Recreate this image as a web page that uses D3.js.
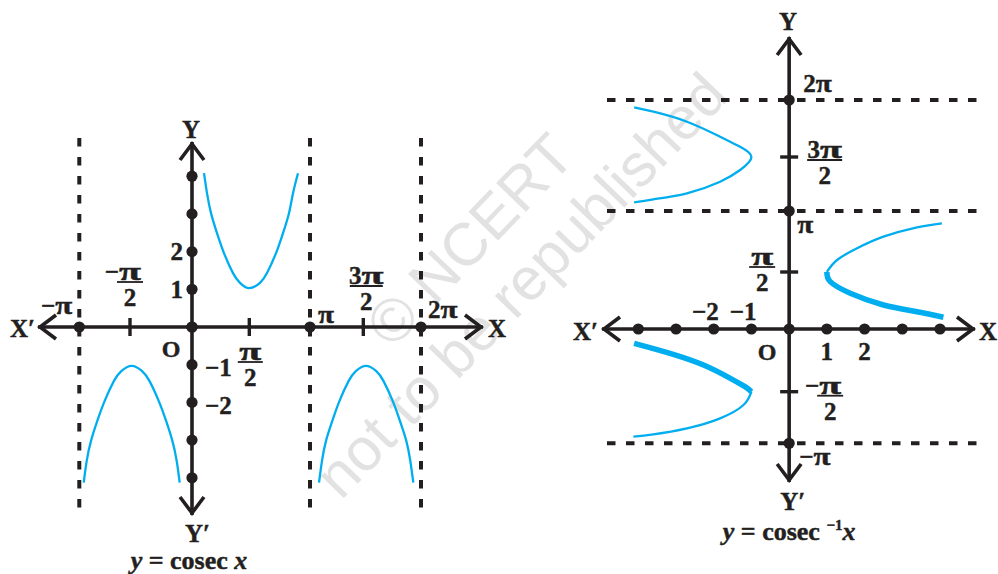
<!DOCTYPE html>
<html>
<head>
<meta charset="utf-8">
<script src="https://d3js.org/d3.v7.min.js"></script>
<style>
  body { margin: 0; background: #fff; }
  text { font-family: "Liberation Serif", "Times New Roman", serif; font-weight: bold; fill: #231f20; stroke: #231f20; stroke-width: 0.45; }
  text.wm { font-family: "Liberation Sans", Arial, sans-serif; font-weight: normal; fill: #e2e2e2; stroke: none; }
</style>
</head>
<body>
<svg id="chart" width="998" height="574"></svg>
<script>
const PI = Math.PI;

// ---------- left graph : y = cosec x  (x in radians) ----------
const leftTickVals   = [-PI, -PI/2, 0, PI/2, PI, 3*PI/2, 2*PI];
const leftDotX       = [-PI, 0, PI, 2*PI];
const leftTickX      = [-PI/2, PI/2, 3*PI/2];
const leftDotY       = [-4, -3, -2, -1, 0, 1, 2, 3, 4];
const leftAsymptotes = [-PI, PI, 2*PI];
const leftXLabels    = ["−π", "π", "2π"];
const leftYLabels    = ["2", "1", "−1", "−2"];
const leftYLabelVals = [2, 1, -1, -2];

// branches
const cosecUpX  = [0.329, 0.411, 0.521, 0.685, 0.877, 1.124, 1.316, 1.571, 1.848, 2.029, 2.262, 2.443, 2.598, 2.702, 2.831];
const cosecUpY  = [4.08, 3.55, 3.02, 2.49, 1.96, 1.43, 1.17, 1.03, 1.17, 1.43, 1.96, 2.49, 3.02, 3.55, 4.08];
const cosecLoAX = [-3.005, -2.912, -2.779, -2.584, -2.355, -2.067, -1.841, -1.528, -1.264, -1.079, -0.844, -0.656, -0.497, -0.388, -0.312];
const cosecLoBX = [3.407, 3.495, 3.613, 3.799, 4.011, 4.282, 4.492, 4.786, 5.066, 5.260, 5.512, 5.710, 5.883, 5.992, 6.074];
const cosecLoY  = [-4.13, -3.55, -3.02, -2.49, -1.96, -1.43, -1.17, -1.03, -1.17, -1.43, -1.96, -2.49, -3.02, -3.55, -4.13];

// ---------- right graph : y = cosec^-1 x ----------
const rightTickVals   = [-PI, -PI/2, 0, PI/2, PI, 3*PI/2, 2*PI];
const rightDotX       = [-4, -3, -2, -1, 0, 1, 2, 3, 4];
const rightDotY       = [-PI, PI, 2*PI];
const rightTickY      = [-PI/2, PI/2, 3*PI/2];
const rightAsymptotes = [-PI, PI, 2*PI];
const rightXLabels    = ["−2", "−1", "1", "2"];
const rightXLabelVals = [-2, -1, 1, 2];
const rightYLabels    = ["2π", "π", "−π"];

const acscTopX    = [-4.11, -3.60, -2.71, -1.83, -1.30, -1.00, -1.30, -1.83, -2.71, -3.60, -4.11];
const acscTopY    = [6.082, 5.960, 5.685, 5.271, 4.996, 4.712, 4.334, 3.994, 3.656, 3.482, 3.394];
const acscRThinX  = [4.05, 3.39, 2.50, 1.80, 1.27, 1.00];
const acscRThinY  = [2.825, 2.722, 2.480, 2.181, 1.880, 1.571];
const acscRThickX = [1.00, 1.09, 1.62, 2.50, 3.39, 4.09];
const acscRThickY = [1.571, 1.304, 0.984, 0.662, 0.477, 0.323];
const acscLThickX = [-4.11, -3.16, -2.27, -1.56, -1.17, -1.00];
const acscLThickY = [-0.358, -0.609, -0.902, -1.235, -1.445, -1.571];
const acscLThinX  = [-1.00, -1.21, -1.83, -2.71, -3.60, -4.13];
const acscLThinY  = [-1.571, -1.976, -2.381, -2.685, -2.868, -2.941];

const ink = "#231f20";
const blue = "#00aeef";
const FS = 25;   // tick label size
const AS = 25;   // axis letters

const svg = d3.select("#chart");
svg.append("rect").attr("width", 998).attr("height", 574).attr("fill", "#fff");

const xL = d3.scaleLinear().domain(leftTickVals).range([79.3, 130, 192, 249.3, 310, 363.3, 421]);
const yL = d3.scaleLinear().domain([-4, 4]).range([477.8, 176.2]);
const xR = d3.scaleLinear().domain([-4, 4]).range([638.3, 940]);
const yR = d3.scaleLinear().domain(rightTickVals).range([443.3, 391.7, 329, 272, 211, 157, 100]);

// watermark
const wm = svg.append("g").attr("transform", "translate(470,240) rotate(-46)");
wm.append("text").attr("class", "wm").attr("text-anchor", "middle").attr("dominant-baseline", "central")
  .attr("font-size", 60).text("© NCERT");
wm.append("text").attr("class", "wm").attr("text-anchor", "middle").attr("dominant-baseline", "central")
  .attr("x", 3).attr("y", 68).attr("font-size", 60).text("not to be republished");

function zip(xs, ys) { return xs.map((x, i) => [x, ys[i]]); }

function piText(g, x, y, s, anchor, piW) {
  const pre = s.split("π")[0];
  const hasPi = s.includes("π");
  const t1 = g.append("text").attr("font-size", FS).text(pre);
  const w1 = pre ? t1.node().getComputedTextLength() : 0;
  const total = w1 + (hasPi ? piW : 0);
  let x0 = x;
  if (anchor === "end") x0 = x - total;
  else if (anchor === "middle") x0 = x - total / 2;
  else if (anchor === "pi") x0 = x - w1 - piW / 2;
  t1.attr("x", x0).attr("y", y);
  if (hasPi) {
    g.append("text").attr("font-size", FS).attr("x", x0 + w1).attr("y", y)
      .attr("textLength", piW).attr("lengthAdjust", "spacingAndGlyphs").text("π");
  }
}

function frac(g, cx, barY, num, den, barW) {
  piText(g, cx, barY - 2, num, num.startsWith("−") ? "pi" : "middle", 22);
  g.append("line").attr("x1", cx - barW / 2).attr("x2", cx + barW / 2)
    .attr("y1", barY).attr("y2", barY).attr("stroke", ink).attr("stroke-width", 1.8);
  g.append("text").attr("x", cx).attr("y", barY + 24).attr("text-anchor", "middle")
    .attr("font-size", FS).text(den);
}

function arrowAxis(g, x1, y1, x2, y2) {
  g.append("line").attr("x1", x1).attr("y1", y1).attr("x2", x2).attr("y2", y2)
    .attr("stroke", ink).attr("stroke-width", 3.6);
  [[x1, y1, x2, y2], [x2, y2, x1, y1]].forEach(([ax, ay, bx, by]) => {
    const L = Math.hypot(ax - bx, ay - by), ux = (ax - bx) / L, uy = (ay - by) / L;
    const tx = ax - ux * 2, ty = ay - uy * 2;
    const pts = [[tx - ux * 16 - uy * 12, ty - uy * 16 + ux * 12], [tx, ty], [tx - ux * 16 + uy * 12, ty - uy * 16 - ux * 12]];
    g.append("path").attr("d", d3.line()(pts)).attr("fill", "none")
      .attr("stroke", ink).attr("stroke-width", 3.6);
  });
}

const curve = d3.curveNatural;

// ================= left graph =================
const gl = svg.append("g");
const x0L = xL(0), y0L = yL(0);

gl.selectAll("line.asym").data(leftAsymptotes).join("line").attr("class", "asym")
  .attr("x1", d => xL(d)).attr("x2", d => xL(d)).attr("y1", 138).attr("y2", 512)
  .attr("stroke", ink).attr("stroke-width", 4).attr("stroke-dasharray", "8.5,10.5");

const lineL = d3.line().x(d => xL(d[0])).y(d => yL(d[1])).curve(curve);
[zip(cosecUpX, cosecUpY), zip(cosecLoAX, cosecLoY), zip(cosecLoBX, cosecLoY)].forEach(b => {
  gl.append("path").attr("d", lineL(b)).attr("fill", "none").attr("stroke", blue).attr("stroke-width", 2.3);
});

arrowAxis(gl, 38, y0L, 483, y0L);
arrowAxis(gl, x0L, 142, x0L, 515);

gl.selectAll("circle.dx").data(leftDotX).join("circle").attr("class", "dx")
  .attr("cx", d => xL(d)).attr("cy", y0L).attr("r", 5.6).attr("fill", ink);
gl.selectAll("circle.dy").data(leftDotY).join("circle").attr("class", "dy")
  .attr("cx", x0L).attr("cy", d => yL(d)).attr("r", 5.6).attr("fill", ink);
gl.selectAll("line.tk").data(leftTickX).join("line").attr("class", "tk")
  .attr("x1", d => xL(d)).attr("x2", d => xL(d)).attr("y1", y0L - 9).attr("y2", y0L + 9)
  .attr("stroke", ink).attr("stroke-width", 3.4);

// labels
piText(gl, xL(-PI) - 7, y0L - 13, leftXLabels[0], "end", 17);
piText(gl, xL(PI) + 8, y0L - 4, leftXLabels[1], "start", 16);
piText(gl, xL(2 * PI) + 7, y0L - 9, leftXLabels[2], "start", 17);
leftYLabels.forEach((s, i) => {
  const v = leftYLabelVals[i];
  gl.append("text").attr("font-size", FS)
    .attr("x", v > 0 ? x0L - 9 : x0L + 13).attr("y", yL(v) + (v > 0 ? 8.5 : 11.5))
    .attr("text-anchor", v > 0 ? "end" : "start").text(s);
});
frac(gl, xL(-PI / 2), y0L - 45, "−π", "2", 26);
frac(gl, xL(PI / 2) + 1, y0L + 35, "π", "2", 25);
frac(gl, xL(3 * PI / 2) + 3, y0L - 41, "3π", "2", 33);
gl.append("text").attr("font-size", 24).attr("x", x0L - 21).attr("y", y0L + 30).attr("text-anchor", "middle").text("O");
gl.append("text").attr("font-size", AS).attr("x", 10).attr("y", y0L + 10).text("X′");
gl.append("text").attr("font-size", AS).attr("x", 488).attr("y", y0L + 10).text("X");
gl.append("text").attr("font-size", AS).attr("x", x0L - 1).attr("y", 138).attr("text-anchor", "middle").text("Y");
gl.append("text").attr("font-size", AS).attr("x", x0L - 7).attr("y", 542).text("Y′");
const capL = gl.append("text").attr("font-size", 26).attr("x", 189).attr("y", 569).attr("text-anchor", "middle");
capL.append("tspan").attr("font-style", "italic").text("y");
capL.append("tspan").text(" = cosec ");
capL.append("tspan").attr("font-style", "italic").text("x");

// ================= right graph =================
const gr = svg.append("g");
const x0R = xR(0), y0R = yR(0);

gr.selectAll("line.asym").data(rightAsymptotes).join("line").attr("class", "asym")
  .attr("x1", 607).attr("x2", 980).attr("y1", d => yR(d)).attr("y2", d => yR(d))
  .attr("stroke", ink).attr("stroke-width", 4).attr("stroke-dasharray", "8.5,10.5");

const lineR = d3.line().x(d => xR(d[0])).y(d => yR(d[1])).curve(curve);
[zip(acscTopX, acscTopY), zip(acscRThinX, acscRThinY), zip(acscLThinX, acscLThinY)].forEach(b => {
  gr.append("path").attr("d", lineR(b)).attr("fill", "none").attr("stroke", blue).attr("stroke-width", 2.3);
});
[zip(acscRThickX, acscRThickY), zip(acscLThickX, acscLThickY)].forEach(b => {
  gr.append("path").attr("d", lineR(b)).attr("fill", "none").attr("stroke", blue).attr("stroke-width", 5.5);
});

arrowAxis(gr, 602, y0R, 975, y0R);
arrowAxis(gr, x0R, 37, x0R, 482);

gr.selectAll("circle.dx").data(rightDotX).join("circle").attr("class", "dx")
  .attr("cx", d => xR(d)).attr("cy", y0R).attr("r", 5.6).attr("fill", ink);
gr.selectAll("circle.dy").data(rightDotY).join("circle").attr("class", "dy")
  .attr("cx", x0R).attr("cy", d => yR(d)).attr("r", 5.6).attr("fill", ink);
gr.selectAll("line.tk").data(rightTickY).join("line").attr("class", "tk")
  .attr("x1", x0R - 9).attr("x2", x0R + 9).attr("y1", d => yR(d)).attr("y2", d => yR(d))
  .attr("stroke", ink).attr("stroke-width", 3.4);

rightXLabels.forEach((s, i) => {
  const v = rightXLabelVals[i];
  gr.append("text").attr("font-size", FS)
    .attr("x", v < 0 ? xR(v) + 5 : xR(v)).attr("y", v < 0 ? y0R - 9 : y0R + 31)
    .attr("text-anchor", v < 0 ? "end" : "middle").text(s);
});
piText(gr, x0R + 14, yR(2 * PI) - 8, rightYLabels[0], "start", 16);
piText(gr, x0R + 8, yR(PI) + 22, rightYLabels[1], "start", 16);
piText(gr, x0R + 10, yR(-PI) + 22, rightYLabels[2], "start", 17);
frac(gr, x0R + 35.5, yR(3 * PI / 2) + 3, "3π", "2", 35);
frac(gr, x0R - 27, yR(PI / 2) - 5, "π", "2", 26);
frac(gr, x0R + 41, yR(-PI / 2) + 4, "−π", "2", 26);
gr.append("text").attr("font-size", 24).attr("x", x0R - 22).attr("y", y0R + 31).attr("text-anchor", "middle").text("O");
gr.append("text").attr("font-size", AS).attr("x", 573).attr("y", y0R + 11).text("X′");
gr.append("text").attr("font-size", AS).attr("x", 979).attr("y", y0R + 11).text("X");
gr.append("text").attr("font-size", AS).attr("x", x0R - 1).attr("y", 30).attr("text-anchor", "middle").text("Y");
gr.append("text").attr("font-size", AS).attr("x", x0R - 9).attr("y", 510).text("Y′");
const capR = gr.append("text").attr("font-size", 26).attr("x", x0R).attr("y", 540).attr("text-anchor", "middle");
capR.append("tspan").attr("font-style", "italic").text("y");
capR.append("tspan").text(" = cosec ");
capR.append("tspan").attr("font-size", 15).attr("dy", -10).text("−1");
capR.append("tspan").attr("font-style", "italic").attr("dy", 10).text("x");
</script>
</body>
</html>
